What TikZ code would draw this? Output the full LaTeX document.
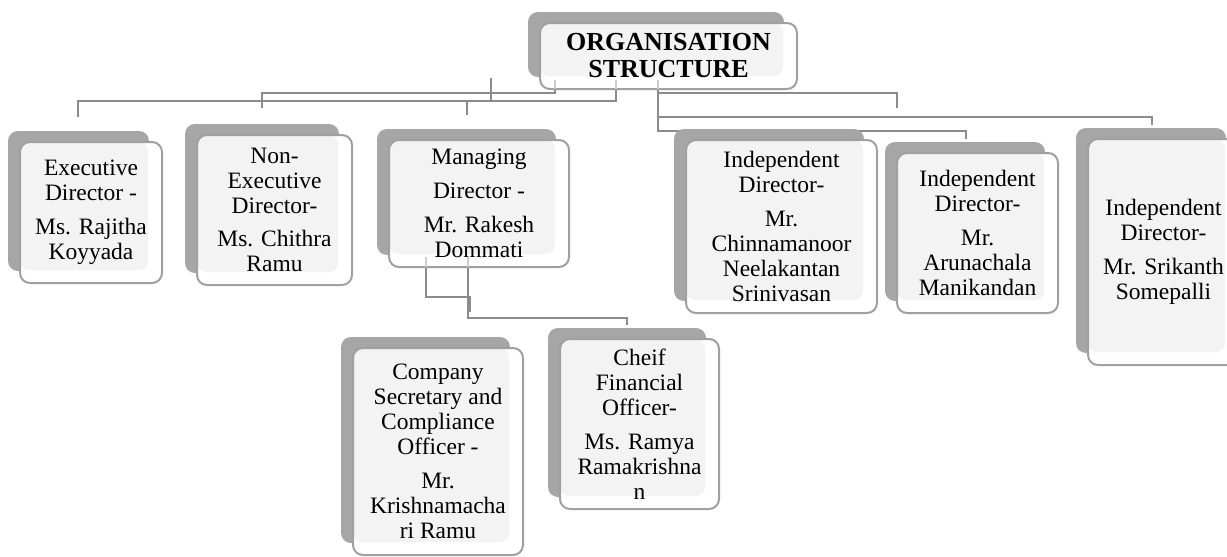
\documentclass[tikz,border=0pt]{standalone}
\usepackage{fontspec}
\setmainfont{Liberation Serif}
\usetikzlibrary{backgrounds}
\definecolor{backgray}{HTML}{A6A6A6}
\definecolor{edgegray}{HTML}{A0A0A0}
\definecolor{lightfill}{HTML}{F3F3F3}
\definecolor{linegray}{HTML}{8C8C8C}
\definecolor{faintgray}{HTML}{CDCDCD}
\tikzset{
  card/.style={draw=edgegray, line width=2pt, rounded corners=10pt, fill=white,
    inner sep=0pt, align=center, font=\fontsize{23.5}{25}\selectfont,
    path picture={\fill[lightfill, rounded corners=9pt]
      (path picture bounding box.north west) rectangle
      ([shift={(-14,-13)}]path picture bounding box.south east);}},
  titlecard/.style={card, font=\bfseries\fontsize{26}{27}\selectfont},
  backcard/.style={fill=backgray, rounded corners=10pt},
  link/.style={draw=linegray, line width=2.5pt},
  faint/.style={draw=faintgray, line width=2.5pt},
}
\begin{document}
\begin{tikzpicture}[x=1pt, y=-1pt]
\useasboundingbox (0,0) rectangle (1227,557);

% boxes (front cards)
\node[titlecard, minimum width=257pt, minimum height=66pt] (org) at (668.5,56) {ORGANISATION\\STRUCTURE};
\node[card, minimum width=142pt, minimum height=141pt] (ex) at (91,212.5) {Executive\\Director -\\[9pt]Ms. Rajitha\\Koyyada};
\node[card, minimum width=155pt, minimum height=150pt] (ne) at (274.5,210) {Non-\\Executive\\Director-\\[8pt]Ms. Chithra\\Ramu};
\node[card, minimum width=180pt, minimum height=127pt] (md) at (479,203.5) {Managing\\[9pt]Director -\\[9pt]Mr. Rakesh\\Dommati};
\node[card, minimum width=191pt, minimum height=173pt] (i1) at (781.5,226.5) {Independent\\Director-\\[9pt]Mr.\\Chinnamanoor\\Neelakantan\\Srinivasan};
\node[card, minimum width=161pt, minimum height=160pt] (i2) at (977.5,233) {Independent\\Director-\\[9pt]Mr.\\Arunachala\\Manikandan};
\node[card, minimum width=151pt, minimum height=226pt] (i3) at (1163.5,252) {Independent\\Director-\\[9pt]Mr. Srikanth\\Somepalli};
\node[card, minimum width=170pt, minimum height=207pt] (cs) at (438,451.5) {Company\\Secretary and\\Compliance\\Officer -\\[9pt]Mr.\\Krishnamacha\\ri Ramu};
\node[card, minimum width=159pt, minimum height=170pt] (cf) at (639.5,424) {Cheif\\Financial\\Officer-\\[9pt]Ms. Ramya\\Ramakrishna\\n};

% connector end points
\coordinate (oA) at (555,89);
\coordinate (oB) at (616,89);
\coordinate (oC) at (658,89);
\coordinate (tNE) at (262,108);
\coordinate (tEX) at (78,117);
\coordinate (jMD) at (467,101);
\coordinate (tMD) at (467,115);
\coordinate (sU) at (491,78);
\coordinate (sD) at (491,101);
\coordinate (jC) at (966,131);
\coordinate (tI2) at (966,139);
\coordinate (jD) at (658,117);
\coordinate (tI3) at (1152,125);
\coordinate (jE) at (658,93);
\coordinate (tI1) at (897,108);
\coordinate (mL) at (426,267);
\coordinate (mJ) at (470,297);
\coordinate (mE) at (470,312);
\coordinate (mR) at (468,267);
\coordinate (jCF) at (627,318);
\coordinate (tCF) at (627,325);
\coordinate (fA) at (555,80);
\coordinate (fB) at (616,80);
\coordinate (fC) at (658,80);
\coordinate (fL) at (426,257);
\coordinate (fR) at (468,257);

\begin{scope}[on background layer]
  \draw[link] (oA) -- ++(0,4) -| (tNE);
  \draw[link] (oB) -- ++(0,12) -| (tEX);
  \draw[link] (jMD) -- (tMD);
  \draw[link] (sU) -- (sD);
  \draw[link] (oC) |- (jC) -- (tI2);
  \draw[link] (jD) -| (tI3);
  \draw[link] (jE) -| (tI1);
  \draw[link] (mL) |- (mJ) -- (mE);
  \draw[link] (mR) |- (jCF) -- (tCF);
  \foreach \n in {org,ex,ne,md,i1,i2,i3,cs,cf}
    \fill[backcard] ([shift={(-11,-10)}]\n.north west) rectangle ([shift={(-14,-13)}]\n.south east);
\end{scope}

% faint parts of connectors seen through the cards
\draw[faint] (fA) -- (oA);
\draw[faint] (fB) -- (oB);
\draw[faint] (fC) -- (oC);
\draw[faint] (fL) -- (mL);
\draw[faint] (fR) -- (mR);
\end{tikzpicture}
\end{document}
